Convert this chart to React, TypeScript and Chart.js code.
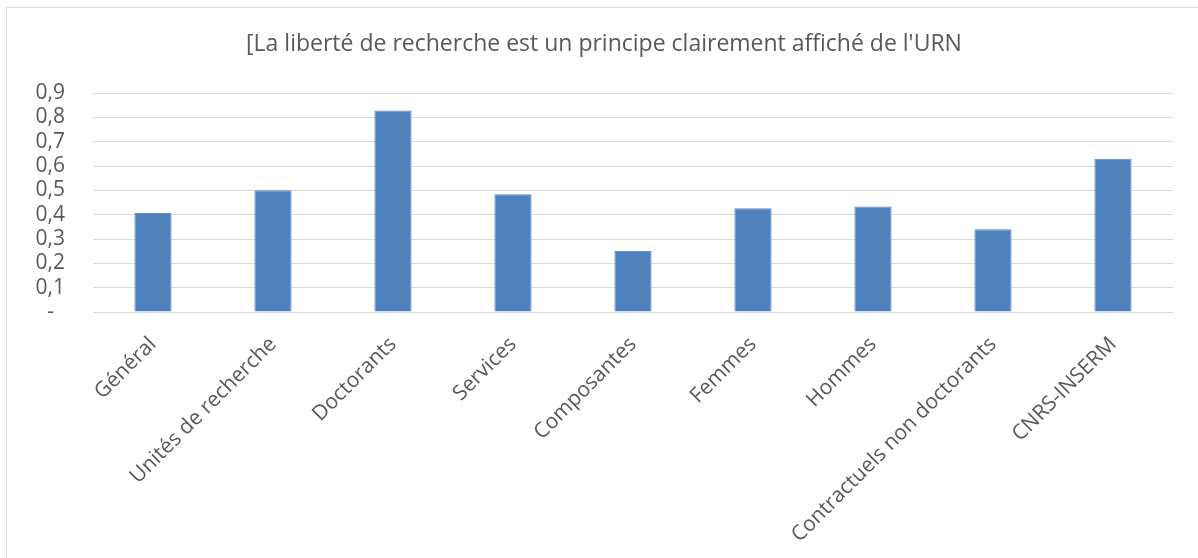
import React, { useEffect, useRef } from "react";
import { Chart, registerables } from "chart.js";

Chart.register(...registerables);

const TITLE = "[La liberté de recherche est un principe clairement affiché de l'URN";
const categories = [
  "Général",
  "Unités de recherche",
  "Doctorants",
  "Services",
  "Composantes",
  "Femmes",
  "Hommes",
  "Contractuels non doctorants",
  "CNRS-INSERM",
];
const values = [0.407, 0.5, 0.828, 0.484, 0.251, 0.426, 0.434, 0.34, 0.63];
const yTicks = [0, 0.1, 0.2, 0.3, 0.4, 0.5, 0.6, 0.7, 0.8, 0.9];

const W = 1198;
const H = 558;
const FONT = "'Open Sans', 'DejaVu Sans', sans-serif";
const TEXT = "#595959";
const GRID = "#D9D9D9";
const BAR = "#4F81BD";

const framePlugin = {
  id: "frame",
  beforeDraw(chart: any) {
    const ctx = chart.ctx;
    ctx.save();
    ctx.fillStyle = "#ffffff";
    ctx.fillRect(0, 0, chart.width, chart.height);
    ctx.strokeStyle = GRID;
    ctx.lineWidth = 1;
    ctx.beginPath();
    ctx.moveTo(6.5, H + 5);
    ctx.lineTo(6.5, 7.5);
    ctx.lineTo(W + 5, 7.5);
    ctx.stroke();
    ctx.fillStyle = TEXT;
    ctx.font = `23px ${FONT}`;
    ctx.textAlign = "center";
    ctx.textBaseline = "alphabetic";
    ctx.fillText(TITLE, 604, 51);
    ctx.restore();
  },
};

export default function App() {
  const ref = useRef<HTMLCanvasElement | null>(null);
  useEffect(() => {
    if (!ref.current) return;
    const chart = new Chart(ref.current, {
      type: "bar",
      data: {
        labels: categories,
        datasets: [
          {
            data: values,
            backgroundColor: BAR,
            borderColor: "#5B8CC7",
            borderWidth: 1,
            barPercentage: 0.31,
            categoryPercentage: 1,
          },
        ],
      },
      options: {
        animation: false,
        responsive: false,
        devicePixelRatio: 1,
        layout: { padding: { top: 93, right: 25, left: 0, bottom: 0 } },
        plugins: {
          legend: { display: false },
          title: { display: false },
          tooltip: { enabled: false },
        },
        scales: {
          x: {
            grid: { display: false, drawTicks: false },
            border: { display: false },
            ticks: {
              color: TEXT,
              font: { family: FONT, size: 21 },
              maxRotation: 45,
              minRotation: 45,
              autoSkip: false,
              padding: 20,
            },
            afterFit(scale: any) {
              scale.height = H - 312;
            },
          },
          y: {
            min: 0,
            max: 0.9,
            afterBuildTicks(scale: any) {
              scale.ticks = yTicks.map((v) => ({ value: v }));
            },
            grid: { color: GRID, lineWidth: 1, drawTicks: false },
            border: { display: false },
            ticks: {
              color: TEXT,
              font: { family: FONT, size: 21 },
              padding: 28,
              autoSkip: false,
              callback: (v: any) => {
                const n = Math.round(Number(v) * 10) / 10;
                return n === 0 ? "-  " : n.toFixed(1).replace(".", ",");
              },
            },
            afterFit(scale: any) {
              scale.width = 93;
            },
          },
        },
      },
      plugins: [framePlugin],
    });
    return () => chart.destroy();
  }, []);
  return (
    <div style={{ position: "fixed", left: 0, top: 0, width: W, height: H, background: "#fff" }}>
      <canvas ref={ref} width={W} height={H} style={{ width: W, height: H, display: "block" }} />
    </div>
  );
}
